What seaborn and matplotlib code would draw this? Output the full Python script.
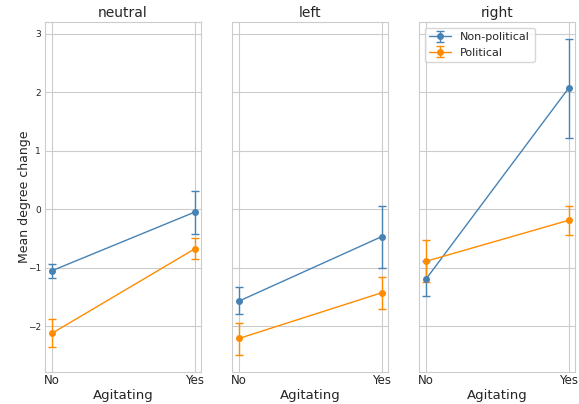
import numpy as np
import matplotlib
matplotlib.use("Agg")
import matplotlib.pyplot as plt
import seaborn as sns

# data
conditions = ["neutral", "left", "right"]
agitating = ["No", "Yes"]

nonpol_mean = {"neutral": [-1.05, -0.05], "left": [-1.57, -0.47], "right": [-1.19, 2.07]}
nonpol_lo = {"neutral": [-1.17, -0.42], "left": [-1.80, -1.00], "right": [-1.49, 1.22]}
nonpol_hi = {"neutral": [-0.93, 0.31], "left": [-1.33, 0.06], "right": [-0.89, 2.92]}

pol_mean = {"neutral": [-2.12, -0.68], "left": [-2.21, -1.43], "right": [-0.89, -0.19]}
pol_lo = {"neutral": [-2.36, -0.85], "left": [-2.50, -1.70], "right": [-1.24, -0.44]}
pol_hi = {"neutral": [-1.87, -0.50], "left": [-1.94, -1.16], "right": [-0.53, 0.06]}

sns.set_style("whitegrid")
plt.rcParams['font.family'] = ['DejaVu Sans']

fig, axes = plt.subplots(1, 3, figsize=(5.79, 4.04), dpi=100, sharey=True)

series = [("Non-political", nonpol_mean, nonpol_lo, nonpol_hi, "steelblue"),
          ("Political", pol_mean, pol_lo, pol_hi, "darkorange")]

for ax, cond in zip(axes, conditions):
    for label, mean, lo, hi, color in series:
        m = np.array(mean[cond])
        yerr = [m - np.array(lo[cond]), np.array(hi[cond]) - m]
        ax.errorbar(agitating, m, yerr=yerr, color=color, marker='o',
                    markersize=4, capsize=3, linewidth=1, elinewidth=1,
                    label=label)
    ax.set_title(cond, fontsize=10, pad=4)
    ax.set_xlabel("Agitating", fontsize=9.5, labelpad=1)
    ax.set_xlim(-0.05, 1.045)
    ax.tick_params(length=0)
    ax.tick_params(axis='x', labelsize=8.5, pad=2)
    ax.tick_params(axis='y', labelsize=6.5, pad=3)
    for s in ax.spines.values():
        s.set_color("#cccccc")

axes[0].set_ylim(-2.78, 3.2)
axes[0].set_yticks([-2, -1, 0, 1, 2, 3])
axes[0].set_ylabel("Mean degree change", fontsize=9, labelpad=-2)
axes[2].legend(loc="upper left", fontsize=8)

plt.subplots_adjust(left=0.078, right=0.993, top=0.945, bottom=0.08, wspace=0.2)
plt.savefig("out.png")
